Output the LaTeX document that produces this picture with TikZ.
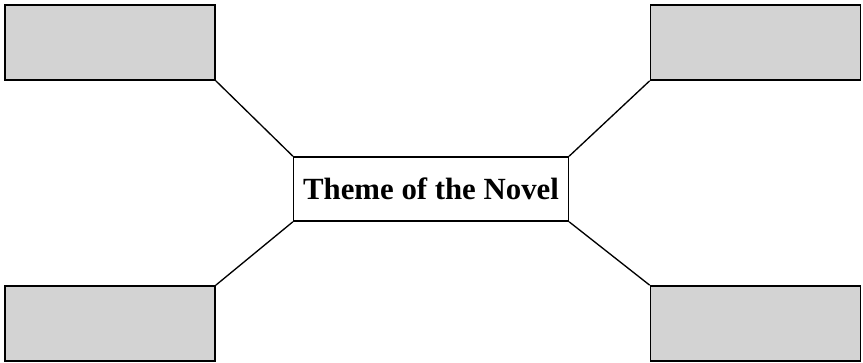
\documentclass[tikz,border=0pt]{standalone}
\usepackage{fontspec}
\setmainfont{Liberation Serif}
\definecolor{boxgray}{HTML}{D3D3D3}
\begin{document}
\begin{tikzpicture}[x=0.75pt,y=-0.75pt,
  blank/.style={draw,line width=1.2pt,fill=boxgray,minimum width=157.5pt,minimum height=56.25pt,inner sep=0pt},
  theme/.style={draw,line width=1.2pt,fill=white,minimum width=206pt,minimum height=48pt,inner sep=0pt,font=\fontsize{23.1}{27}\selectfont\bfseries}]
\useasboundingbox (0,0) rectangle (863,363);
\node[blank] (tl) at (110,42.5) {};
\node[blank] (tr) at (755.5,42.5) {};
\node[blank] (bl) at (110,323.5) {};
\node[blank] (br) at (755.5,323.5) {};
\node[theme] (c) at (431,189) {Theme of the Novel};
\draw[line width=1pt] (tl.south east) -- (c.north west);
\draw[line width=1pt] (tr.south west) -- (c.north east);
\draw[line width=1pt] (bl.north east) -- (c.south west);
\draw[line width=1pt] (br.north west) -- (c.south east);
\end{tikzpicture}
\end{document}
